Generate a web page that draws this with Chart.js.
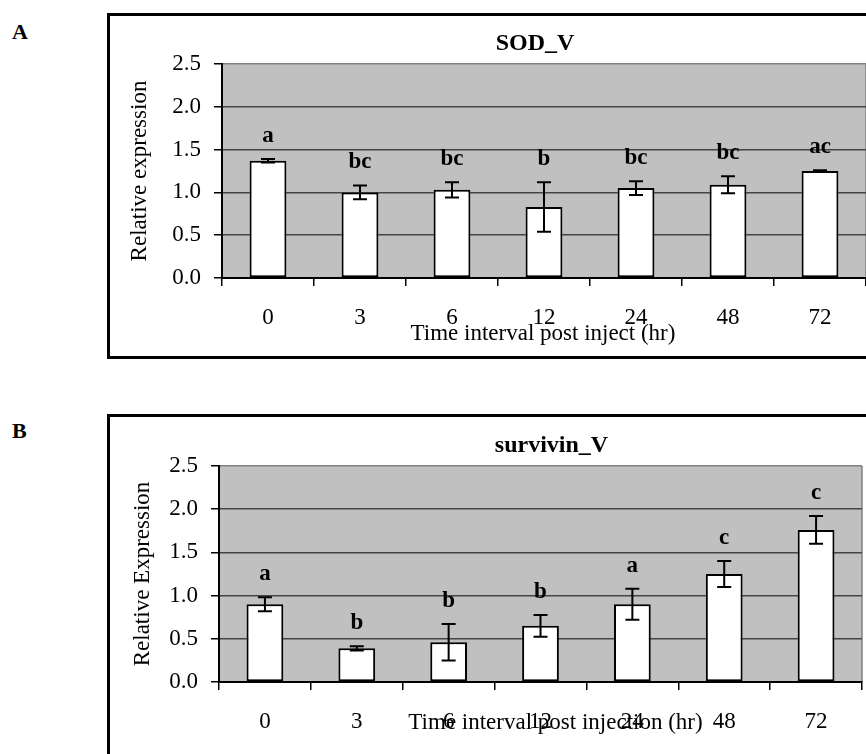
<!DOCTYPE html>
<html>
<head>
<meta charset="utf-8">
<script src="https://cdn.jsdelivr.net/npm/chart.js@4"></script>
<style>
  html, body { margin: 0; padding: 0; background: #fff; width: 866px; height: 754px; overflow: hidden; }
  .panel-letter { position: absolute; left: 12px; font: bold 22px 'Liberation Serif', 'Times New Roman', serif; line-height: 22px; color: #000; }
  .frame { position: absolute; left: 107px; width: 806px; border: 3px solid #000; box-sizing: border-box; background: #fff; }
  .frame canvas { display: block; }
</style>
</head>
<body>
<div class="panel-letter" style="top:21px">A</div>
<div class="frame" style="top:13px; height:346px"><canvas id="chartA" width="800" height="340"></canvas></div>
<div class="panel-letter" style="top:420px">B</div>
<div class="frame" style="top:414px; height:351px"><canvas id="chartB" width="800" height="345"></canvas></div>

<script>
// Sampling times after injection (hr)
const hours = ['0', '3', '6', '12', '24', '48', '72'];
const yTickLabels = ['0.0', '0.5', '1.0', '1.5', '2.0', '2.5'];

// SOD_V relative expression: mean, error and significance groups
const sodMean = [1.37, 1.00, 1.03, 0.83, 1.05, 1.09, 1.25];
const sodErr = [0.02, 0.08, 0.09, 0.29, 0.08, 0.10, 0.01];
const sodGroups = ['a', 'bc', 'bc', 'b', 'bc', 'bc', 'ac'];

// survivin_V relative expression: mean, error and significance groups
const survivinMean = [0.90, 0.39, 0.46, 0.65, 0.90, 1.25, 1.76];
const survivinErr = [0.08, 0.025, 0.21, 0.125, 0.18, 0.15, 0.16];
const survivinGroups = ['a', 'b', 'b', 'b', 'a', 'c', 'c'];

const FAMILY = "'Liberation Serif', 'Times New Roman', serif";
Chart.defaults.font.family = FAMILY;
Chart.defaults.color = '#000';

// Grey plot area with a grey right edge
const plotFrame = {
  id: 'plotFrame',
  beforeDraw(chart) {
    const { ctx, chartArea: a } = chart;
    ctx.save();
    ctx.fillStyle = '#c0c0c0';
    ctx.fillRect(a.left, a.top, a.right - a.left, a.bottom - a.top);
    ctx.strokeStyle = '#808080';
    ctx.lineWidth = 1.5;
    ctx.beginPath();
    ctx.moveTo(a.right, a.top);
    ctx.lineTo(a.right, a.bottom);
    ctx.stroke();
    ctx.restore();
  }
};

// Error bars with caps, plus the group letter above each bar
const errorBars = {
  id: 'errorBars',
  afterDatasetsDraw(chart, args, opts) {
    const { ctx, scales: { y } } = chart;
    const ds = chart.data.datasets[0];
    const meta = chart.getDatasetMeta(0);
    ctx.save();
    ctx.strokeStyle = '#000';
    ctx.fillStyle = '#000';
    ctx.lineWidth = 2;
    ctx.font = 'bold 23px ' + FAMILY;
    ctx.textAlign = 'center';
    ctx.textBaseline = 'middle';
    meta.data.forEach((bar, i) => {
      const v = ds.data[i], e = ds.errors[i];
      const yTop = y.getPixelForValue(v + e);
      const yBot = y.getPixelForValue(v - e);
      const x = bar.x, cap = 7;
      ctx.beginPath();
      ctx.moveTo(x, yTop); ctx.lineTo(x, yBot);
      ctx.moveTo(x - cap, yTop); ctx.lineTo(x + cap, yTop);
      ctx.moveTo(x - cap, yBot); ctx.lineTo(x + cap, yBot);
      ctx.stroke();
      ctx.fillText(ds.groups[i], x, yTop - opts.gap);
    });
    ctx.restore();
  }
};

// Chart title and x-axis caption, placed relative to the plot area
const captions = {
  id: 'captions',
  afterDraw(chart, args, opts) {
    const { ctx, chartArea: a } = chart;
    const cx = (a.left + a.right) / 2;
    ctx.save();
    ctx.fillStyle = '#000';
    ctx.textAlign = 'center';
    ctx.textBaseline = 'middle';
    ctx.font = 'bold 24px ' + FAMILY;
    ctx.fillText(opts.title, cx + opts.titleDx, a.top + opts.titleDy);
    ctx.font = '23px ' + FAMILY;
    ctx.fillText(opts.xTitle, cx + opts.xTitleDx, a.bottom + opts.xTitleDy);
    ctx.restore();
  }
};

function makeChart(id, cfg) {
  return new Chart(document.getElementById(id), {
    type: 'bar',
    data: {
      labels: hours,
      datasets: [{
        data: cfg.mean,
        errors: cfg.err,
        groups: cfg.groups,
        backgroundColor: '#ffffff',
        borderColor: '#000000',
        borderWidth: 2,
        borderSkipped: false,
        barPercentage: 0.4,
        categoryPercentage: 1.0
      }]
    },
    options: {
      responsive: false,
      animation: false,
      layout: { padding: { top: cfg.top, right: cfg.right, left: 0, bottom: 0 } },
      plugins: {
        legend: { display: false },
        tooltip: { enabled: false },
        errorBars: { gap: 23 },
        captions: cfg.captions
      },
      scales: {
        x: {
          ticks: { padding: 18, font: { size: 23 }, color: '#000', maxRotation: 0 },
          grid: { offset: true, drawOnChartArea: false, color: '#000', tickLength: 8, lineWidth: 1.5 },
          border: { color: '#000', width: 2 },
          afterFit(s) { s.height = cfg.xHeight; }
        },
        y: {
          min: 0,
          max: 2.5,
          ticks: {
            stepSize: 0.5, padding: 13, font: { size: 23 }, color: '#000',
            callback: (v, i) => yTickLabels[i]
          },
          grid: {
            color: c => (c.tick && c.tick.value === 2.5) ? '#808080' : '#444444',
            lineWidth: 1.5, tickColor: '#000', tickLength: 8
          },
          border: { color: '#000', width: 2 },
          title: { display: true, text: cfg.yTitle, font: { size: 23 }, color: '#000', padding: { top: cfg.yTitlePad, bottom: 0 } },
          afterFit(s) { s.width = cfg.yWidth; }
        }
      }
    },
    plugins: [plotFrame, errorBars, captions]
  });
}

makeChart('chartA', {
  mean: sodMean, err: sodErr, groups: sodGroups,
  yTitle: 'Relative expression',
  top: 48, right: 44, yWidth: 112, xHeight: 78, yTitlePad: 16,
  captions: { title: 'SOD_V', titleDx: -9, titleDy: -20,
              xTitle: 'Time interval post inject (hr)', xTitleDx: -1, xTitleDy: 56 }
});

makeChart('chartB', {
  mean: survivinMean, err: survivinErr, groups: survivinGroups,
  yTitle: 'Relative Expression',
  top: 49, right: 48, yWidth: 109, xHeight: 80, yTitlePad: 19,
  captions: { title: 'survivin_V', titleDx: 11, titleDy: -20,
              xTitle: 'Time interval post injection (hr)', xTitleDx: 15, xTitleDy: 41 }
});
</script>
</body>
</html>
